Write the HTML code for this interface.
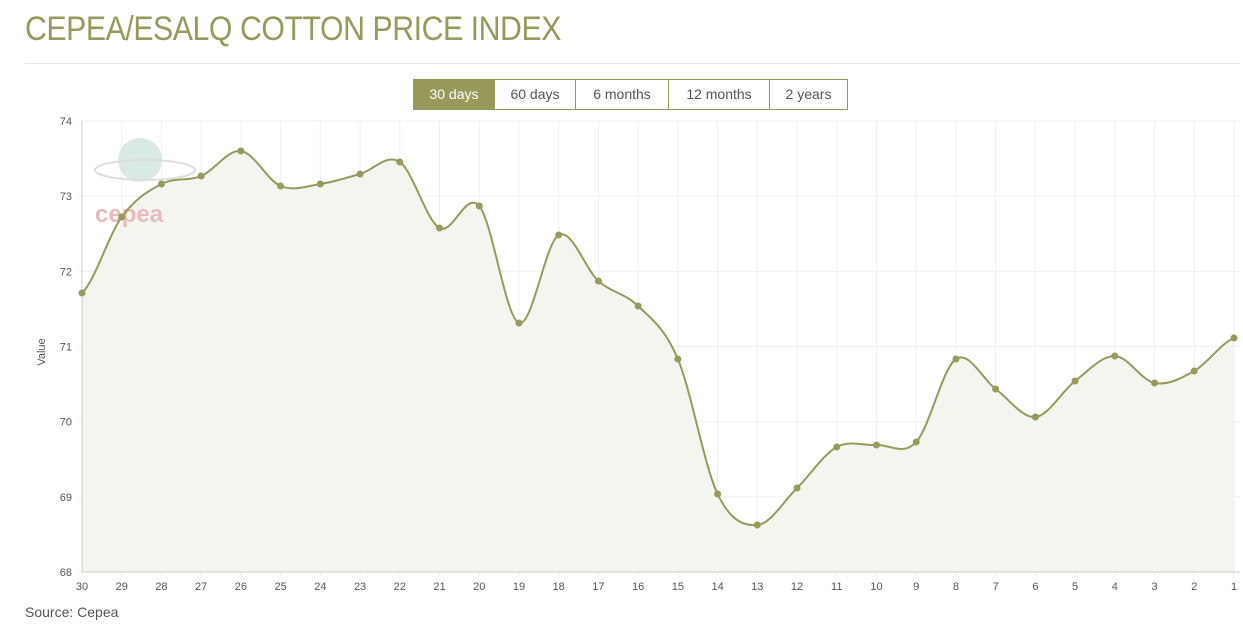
<!DOCTYPE html>
<html><head><style>
body{margin:0;width:1243px;height:626px;background:#fff;font-family:"Liberation Sans",sans-serif;position:relative;overflow:hidden}
.t{position:absolute;left:25px;top:10px;font-size:34px;color:#979a5b;letter-spacing:-0.5px;transform:scaleX(0.89);transform-origin:left top;white-space:nowrap}
.hr{position:absolute;left:25px;top:63px;width:1215px;height:1px;background:#e8e8e8}
.btns{position:absolute;left:413px;top:79px;display:flex;border:1px solid #979a5b;height:29px}
.btns div{font-size:14px;color:#555;line-height:29px;text-align:center;border-left:1px solid #979a5b}
.btns div:first-child{border-left:none;background:#979a5b;color:#fff}
.src{position:absolute;left:25px;top:604px;font-size:14px;color:#555}
</style></head><body>
<div class="t">CEPEA/ESALQ COTTON PRICE INDEX</div>
<div class="hr"></div>
<div class="btns"><div style="width:80px">30 days</div><div style="width:80px">60 days</div><div style="width:92px">6 months</div><div style="width:100px">12 months</div><div style="width:77px">2 years</div></div>
<svg id="s" width="1243" height="626" style="position:absolute;left:0;top:0"></svg>
<div class="src">Source: Cepea</div>
<script>
var ys=[293,217,184,176,151,186,184,174,162,228,206,323,235,281,306,359,494,525,488,447,445,442,359,389,417,381,356,383,371,338];
var x0=82,dx=(1234-82)/29,h='';
for(var v=0;v<=6;v++){var y=121+v*75.17;h+='<line x1="78" x2="1240" y1="'+y+'" y2="'+y+'" stroke="#efefef"/><text x="72" y="'+(y+4)+'" font-size="11" fill="#555" text-anchor="end">'+(74-v)+'</text>';}
for(var i=0;i<30;i++){var x=x0+i*dx;h+='<line x1="'+x+'" x2="'+x+'" y1="121" y2="576" stroke="#efefef"/><text x="'+x+'" y="590" font-size="11" fill="#555" text-anchor="middle">'+(30-i)+'</text>';}
var p='M'+x0+','+ys[0];
for(var i=0;i<29;i++){var a=ys[Math.max(i-1,0)],b=ys[i],c=ys[i+1],d=ys[Math.min(i+2,29)];
var xa=x0+i*dx,xb=xa+dx;p+=' C'+(xa+dx/3)+','+(b+(c-a)/6)+' '+(xb-dx/3)+','+(c-(d-b)/6)+' '+xb+','+c;}
h+='<path d="'+p+' L1234,572 L82,572Z" fill="#f5f5f0"/>';
h+='<line x1="82" x2="82" y1="121" y2="572" stroke="#ccc"/><line x1="82" x2="1240" y1="572" y2="572" stroke="#ccc"/>';
h+='<text x="45" y="352" font-size="11" fill="#555" transform="rotate(-90 45 352)" text-anchor="middle">Value</text>';
h+='<circle cx="140" cy="160" r="22" fill="#cfe3dd" opacity="0.8"/><ellipse cx="145" cy="170" rx="50" ry="10" fill="none" stroke="#ddd" stroke-width="2"/><text x="95" y="222" font-size="24" fill="#e8bcbc" font-weight="bold">cepea</text>';
h+='<path d="'+p+'" fill="none" stroke="#979a5b" stroke-width="2"/>';
for(var i=0;i<30;i++)h+='<circle cx="'+(x0+i*dx)+'" cy="'+ys[i]+'" r="3.5" fill="#979a5b"/>';
document.getElementById('s').innerHTML=h;
</script>
</body></html>
